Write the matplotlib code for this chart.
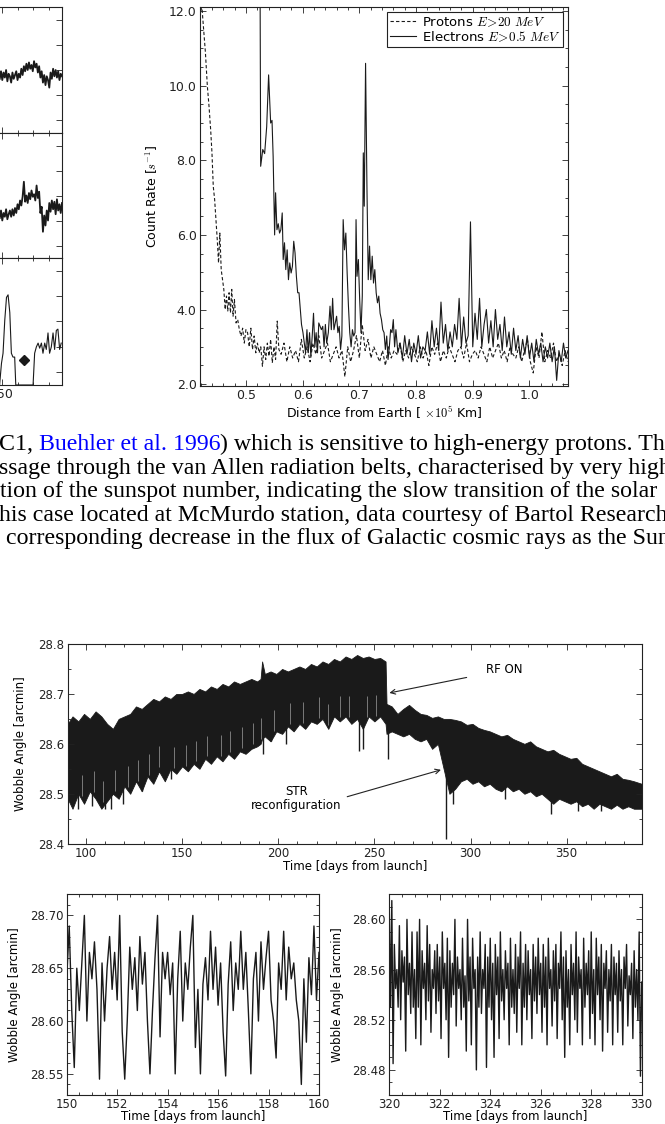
import numpy as np
import matplotlib.pyplot as plt
from matplotlib.ticker import MultipleLocator, AutoMinorLocator

plt.rcParams['font.family'] = ['DejaVu Sans']
plt.rcParams['mathtext.fontset'] = 'cm'

# ---------------- data ----------------
# partial panels on the top left (only their right edge is visible)
strip_top = [4.3, 4.9, 4.2, 4.8, 4.4, 5.0, 4.1, 4.7, 4.5, 4.0, 4.8, 4.3, 4.6, 4.9, 4.2, 4.7, 4.4,
             5.1, 4.6, 5.3, 4.9, 5.5, 5.0, 5.6, 5.1, 5.4, 4.9, 5.7, 5.2, 5.5, 4.8, 5.3, 4.4, 4.9,
             4.0, 4.6, 3.8, 4.5, 4.2, 3.6, 4.8, 4.3, 5.1, 4.5, 5.0, 4.4, 4.9, 4.2, 4.7, 4.5]
strip_mid = [3.2, 3.8, 3.0, 3.6, 3.3, 3.9, 3.1, 3.5, 3.8, 3.3, 3.9, 3.4, 4.0, 3.6, 4.3, 3.9, 4.6,
             4.2, 4.9, 6.1, 4.5, 5.0, 4.4, 5.2, 4.7, 5.4, 4.9, 5.1, 4.6, 5.8, 4.8, 5.3, 3.6, 4.1,
             2.1, 3.4, 2.6, 3.8, 3.0, 4.4, 3.7, 4.6, 3.9, 4.5, 3.5, 4.7, 3.8, 4.3, 3.6, 4.4]
strip_bot_x = [148.5, 149.7, 150.7, 151.8, 152.9, 153.9, 155.0, 156.0, 157.0, 158.1, 158.8, 169.8,
               170.8, 171.9, 173.0, 174.0, 175.1, 176.1, 177.2, 178.2, 179.3, 180.3, 181.4, 182.5,
               183.5, 184.6, 185.6, 186.7, 187.7]
strip_bot_y = [0, 1.7, 2.5, 5.1, 6.9, 7.1, 5.7, 2.5, 2.2, 2.2, 0, 0, 2.5, 3.0, 3.3, 2.9, 3.3, 2.5,
               3.3, 2.8, 4.1, 2.5, 3.0, 4.1, 2.8, 4.3, 4.4, 2.8, 3.3]
strip_marker = (163.8, 2.0)

# count rate vs distance
prot_x = [0.4227, 0.425, 0.4285, 0.432, 0.4349, 0.4378, 0.4401, 0.4424, 0.4448, 0.4471, 0.4494,
          0.4517, 0.454, 0.4564, 0.4587, 0.461, 0.4634, 0.4657, 0.468, 0.4703, 0.4727, 0.475,
          0.4773, 0.4797, 0.4826, 0.4855, 0.4884, 0.4913, 0.4942, 0.4971, 0.5, 0.5029, 0.5058,
          0.5087, 0.5116, 0.5145, 0.5174, 0.5203, 0.5233, 0.5262, 0.5291, 0.532, 0.5349, 0.5378,
          0.5407, 0.5436, 0.5465, 0.5494, 0.5523, 0.5552, 0.5581]
prot_y = [12.04, 11.6, 10.9, 9.98, 9.45, 8.82, 8.2, 7.3, 6.95, 6.41, 5.88, 5.25, 6.05, 5.07, 4.8,
          4.54, 4.0, 4.36, 3.96, 4.45, 3.91, 4.54, 3.82, 4.27, 3.64, 3.73, 3.46, 3.29, 3.5, 3.1,
          3.46, 3.38, 3.0, 3.5, 2.93, 3.29, 2.84, 3.1, 2.84, 3.0, 2.48, 3.0, 2.66, 3.1, 2.75, 3.2,
          2.57, 3.0, 2.66, 3.69, 2.93]
prot_tail = [2.8, 3.1, 2.6, 3.0, 2.7, 2.9, 2.6, 3.2, 2.7, 3.0,
             2.6, 3.1, 2.8, 3.3, 2.7, 2.9, 3.1, 2.6, 2.8, 3.0,
             2.7, 2.9, 2.2, 3.0, 2.6, 2.9, 3.3, 2.7, 3.6, 2.9,
             3.2, 2.7, 3.0, 2.8, 2.6, 2.9, 2.5, 3.0, 2.7, 2.9,
             2.8, 3.1, 2.6, 2.9, 2.7, 3.0, 2.8, 2.6, 3.0, 2.7,
             2.9, 2.5, 3.0, 2.8, 3.1, 2.6, 2.9, 2.7, 3.0, 2.8,
             2.6, 2.9, 3.0, 2.7, 3.1, 2.6, 2.8, 2.9, 2.7, 3.0,
             2.8, 2.6, 3.0, 2.7, 2.9, 3.1, 2.7, 2.9, 2.6, 3.0,
             2.8, 2.7, 3.0, 2.6, 2.9, 3.2, 2.6, 2.3, 3.0, 2.7,
             3.4, 2.6, 2.9, 2.7, 3.1, 2.6, 2.8, 2.5, 2.9, 2.6]

elec_x = [0.525, 0.526, 0.5297, 0.533, 0.5366, 0.540, 0.5436, 0.546, 0.548, 0.5506, 0.5523,
          0.5547, 0.557, 0.5593, 0.5616, 0.564, 0.5657, 0.568, 0.5703, 0.5727, 0.575, 0.5773,
          0.5797, 0.582, 0.5843, 0.5866, 0.589, 0.5913, 0.5936, 0.596, 0.598, 0.6006, 0.603,
          0.6052, 0.6076, 0.6099, 0.6122, 0.6145, 0.6169, 0.6192, 0.6215, 0.6238, 0.6262,
          0.6285, 0.6308, 0.6331, 0.6355, 0.6378, 0.6401, 0.6424, 0.6453, 0.6483, 0.6506,
          0.6529, 0.6552, 0.6576, 0.6599, 0.6622, 0.6645, 0.6669, 0.6692, 0.6715, 0.6738,
          0.6762, 0.6785, 0.6808, 0.6831, 0.6855, 0.6878, 0.6901, 0.6924, 0.6942, 0.6959,
          0.6983, 0.7006, 0.7029, 0.7052, 0.707, 0.7087, 0.711, 0.7134, 0.7157, 0.718, 0.7203,
          0.7227, 0.725, 0.7273, 0.7297, 0.732, 0.7343, 0.7366, 0.739, 0.7413, 0.7436, 0.7459,
          0.7483, 0.7506, 0.7529, 0.7552, 0.7576, 0.7599, 0.7622, 0.7645, 0.768]
elec_y = [12.5, 7.84, 8.29, 8.18, 8.9, 10.29, 9.0, 9.07, 8.1, 6.0, 7.13, 6.14, 6.3, 6.05, 6.14,
          6.59, 5.34, 5.79, 5.07, 5.6, 4.8, 5.25, 4.98, 5.16, 5.83, 5.52, 4.89, 4.45, 4.45, 4.0,
          3.6, 3.38, 3.1,
          2.84, 3.46, 2.84, 3.38, 2.75, 3.29, 3.9, 3.0, 3.38, 2.84, 3.64, 3.55, 3.46, 3.55, 3.0,
          3.6, 3.1, 3.38, 4.09, 3.46, 4.3, 3.46, 3.64, 3.82, 3.38, 3.55, 2.93, 3.29, 6.41, 5.6,
          6.05, 4.98, 4.09, 3.38, 3.0, 3.46, 3.29, 3.38, 6.41, 4.89, 5.34, 4.27, 3.38, 4.36, 8.2,
          6.77, 10.6, 7.3, 4.8, 5.7, 4.8, 5.43, 4.71, 5.07, 4.45, 4.18, 4.36, 3.9, 3.73, 3.46,
          3.38, 2.93, 3.29, 2.66, 3.0, 3.46, 3.38, 3.73, 3.0, 3.46, 2.84]
elec_tail = [3.1, 2.7, 3.3, 2.8, 3.2, 2.6, 3.1, 2.8, 3.3, 2.7, 3.0, 2.9, 3.4, 2.8, 3.7, 3.0, 3.5,
             2.9, 4.2, 3.1, 3.6, 2.9, 3.4, 3.0, 3.6, 3.2, 4.3, 3.0, 3.8, 3.1, 3.3, 6.35, 3.0, 3.9,
             3.2, 4.3, 3.0, 3.6, 4.0, 3.1, 3.7, 3.0, 4.0, 3.2, 3.6, 2.9, 3.8, 3.0, 3.4, 2.8, 3.5,
             2.9, 3.3, 2.7, 3.2, 2.8, 3.3, 2.7, 3.1, 2.6, 3.2, 2.8, 3.1, 2.6, 3.0, 2.7, 3.1, 2.6,
             3.0, 2.1, 2.9, 2.6, 3.1, 2.7, 2.9]

# wobble angle, upper and lower edge of the dense trace
wob_day = [90.5, 93, 96, 99, 102, 105, 108, 111, 114, 117,
           120, 123, 126, 129, 132, 135, 138, 141, 144, 147,
           150, 153, 156, 159, 162, 165, 168, 171, 174, 177,
           180, 183, 186, 189, 190.8, 191.6, 193, 196, 199, 202,
           205, 208, 211, 214, 217, 220, 223, 226, 229, 232,
           235, 238, 241, 244, 247, 250, 253, 255.8, 256.3, 259,
           262, 265, 268, 271, 274, 277, 280, 283, 286, 289,
           292, 295, 298, 301, 304, 307, 310, 313, 316, 319,
           322, 325, 328, 331, 334, 337, 340, 343, 346, 349,
           352, 355, 358, 361, 364, 367, 370, 373, 376, 379,
           382, 385, 389]
wob_hi = [28.64, 28.655, 28.645, 28.66, 28.65, 28.665, 28.655, 28.64, 28.63, 28.65,
          28.655, 28.66, 28.675, 28.67, 28.68, 28.69, 28.685, 28.695, 28.69, 28.70,
          28.70, 28.705, 28.70, 28.71, 28.705, 28.715, 28.71, 28.72, 28.715, 28.725,
          28.72, 28.725, 28.73, 28.725, 28.73, 28.765, 28.74, 28.745, 28.74, 28.75,
          28.745, 28.75, 28.755, 28.75, 28.76, 28.755, 28.765, 28.76, 28.77, 28.765,
          28.775, 28.77, 28.778, 28.772, 28.775, 28.77, 28.772, 28.765, 28.68, 28.675,
          28.66, 28.67, 28.678, 28.668, 28.66, 28.658, 28.652, 28.655, 28.65, 28.65,
          28.648, 28.645, 28.638, 28.64, 28.632, 28.628, 28.625, 28.62, 28.615, 28.618,
          28.61, 28.605, 28.60, 28.605, 28.595, 28.59, 28.585, 28.588, 28.58, 28.575,
          28.57, 28.572, 28.56, 28.555, 28.55, 28.545, 28.54, 28.535, 28.54, 28.53,
          28.528, 28.525, 28.52]
wob_lo = [28.49, 28.47, 28.50, 28.48, 28.505, 28.49, 28.47, 28.485, 28.50, 28.49,
          28.515, 28.50, 28.525, 28.505, 28.535, 28.52, 28.545, 28.525, 28.55, 28.54,
          28.555, 28.545, 28.56, 28.55, 28.57, 28.56, 28.575, 28.565, 28.58, 28.57,
          28.585, 28.58, 28.59, 28.595, 28.60, 28.61, 28.615, 28.605, 28.625, 28.62,
          28.635, 28.625, 28.64, 28.63, 28.645, 28.64, 28.65, 28.63, 28.655, 28.645,
          28.655, 28.64, 28.65, 28.63, 28.655, 28.645, 28.655, 28.64, 28.62, 28.625,
          28.62, 28.615, 28.62, 28.61, 28.605, 28.61, 28.59, 28.60, 28.55, 28.50,
          28.51, 28.525, 28.53, 28.52, 28.525, 28.515, 28.52, 28.51, 28.505, 28.515,
          28.505, 28.51, 28.50, 28.505, 28.495, 28.50, 28.49, 28.48, 28.49, 28.485,
          28.48, 28.485, 28.475, 28.48, 28.47, 28.48, 28.475, 28.47, 28.478, 28.47,
          28.475, 28.47, 28.47]
spike_day = [96, 103, 110, 113, 119, 129, 144, 192, 196, 204, 242, 244, 257, 287.3, 291, 318,
             342, 356, 368]
spike_lo = [28.47, 28.475, 28.47, 28.47, 28.48, 28.505, 28.53, 28.58, 28.605, 28.60, 28.585,
            28.59, 28.57, 28.41, 28.48, 28.49, 28.46, 28.465, 28.465]
# sparse (grey) stretches inside the band
gap_day = [98, 104, 109, 115, 122, 127, 133, 138, 146, 152, 157, 163, 170, 175, 181, 187, 191,
           198, 206, 213, 221, 226, 232, 237, 246, 251]

# zoomed wobble traces
zoom1 = [28.64, 28.69, 28.61, 28.556, 28.65, 28.61, 28.655, 28.70, 28.60, 28.665,
         28.64, 28.675, 28.63, 28.545, 28.655, 28.60, 28.65, 28.68, 28.63, 28.665,
         28.62, 28.70, 28.59, 28.545, 28.60, 28.67, 28.63, 28.66, 28.61, 28.68,
         28.635, 28.665, 28.60, 28.55, 28.61, 28.66, 28.70, 28.585, 28.665, 28.64,
         28.665, 28.625, 28.655, 28.55, 28.64, 28.685, 28.60, 28.655, 28.63, 28.67,
         28.70, 28.575, 28.63, 28.55, 28.635, 28.66, 28.62, 28.685, 28.63, 28.67,
         28.615, 28.655, 28.59, 28.548, 28.635, 28.675, 28.61, 28.655, 28.63, 28.685,
         28.63, 28.665, 28.61, 28.55, 28.64, 28.665, 28.60, 28.675, 28.63, 28.66,
         28.685, 28.62, 28.60, 28.565, 28.655, 28.63, 28.685, 28.62, 28.67, 28.64,
         28.655, 28.62, 28.60, 28.54, 28.64, 28.58, 28.66, 28.625, 28.69, 28.62,
         28.665]
zoom2 = [28.61, 28.53, 28.615, 28.485, 28.58, 28.545, 28.56, 28.53, 28.595, 28.52, 28.575, 28.55, 28.57, 28.495, 28.60, 28.54, 28.565, 28.525, 28.59, 28.53,
         28.56, 28.505, 28.59, 28.53, 28.60, 28.50, 28.575, 28.545, 28.565, 28.52, 28.595, 28.535, 28.58, 28.51, 28.56, 28.545, 28.575, 28.525, 28.58, 28.535,
         28.57, 28.505, 28.59, 28.545, 28.565, 28.52, 28.585, 28.49, 28.575, 28.53, 28.565, 28.54, 28.60, 28.515, 28.57, 28.545, 28.56, 28.52, 28.585, 28.53,
         28.555, 28.495, 28.60, 28.535, 28.57, 28.50, 28.585, 28.545, 28.56, 28.48, 28.57, 28.53, 28.59, 28.525, 28.56, 28.545, 28.58, 28.482, 28.57, 28.53,
         28.585, 28.52, 28.565, 28.49, 28.58, 28.54, 28.57, 28.505, 28.59, 28.535, 28.56, 28.52, 28.575, 28.545, 28.565, 28.50, 28.585, 28.53, 28.56, 28.525,
         28.58, 28.51, 28.57, 28.545, 28.59, 28.50, 28.565, 28.53, 28.58, 28.52, 28.575, 28.54, 28.56, 28.505, 28.58, 28.535, 28.57, 28.525, 28.585, 28.54,
         28.565, 28.51, 28.58, 28.53, 28.57, 28.50, 28.585, 28.545, 28.56, 28.515, 28.575, 28.535, 28.58, 28.505, 28.565, 28.545, 28.59, 28.52, 28.57, 28.49,
         28.575, 28.53, 28.56, 28.50, 28.58, 28.54, 28.565, 28.52, 28.59, 28.51, 28.57, 28.545, 28.56, 28.50, 28.585, 28.53, 28.565, 28.54, 28.575, 28.505,
         28.59, 28.525, 28.56, 28.50, 28.585, 28.54, 28.57, 28.52, 28.58, 28.495, 28.565, 28.545, 28.575, 28.51, 28.56, 28.535, 28.58, 28.50, 28.57, 28.54,
         28.565, 28.51, 28.575, 28.535, 28.56, 28.50, 28.57, 28.545, 28.58, 28.515, 28.555, 28.54, 28.565, 28.505, 28.575, 28.53, 28.56, 28.52, 28.59, 28.475,
         28.55]

paragraph = [
    [("C1, ", "black"), ("Buehler et al. 1996", "blue"),
     (") which is sensitive to high-energy protons. The", "black")],
    [("ssage through the van Allen radiation belts, characterised by very high", "black")],
    [("tion of the sunspot number, indicating the slow transition of the solar", "black")],
    [("his case located at McMurdo station, data courtesy of Bartol Research", "black")],
    [(" corresponding decrease in the flux of Galactic cosmic rays as the Sun", "black")],
]

# ---------------- figure ----------------
W, H = 665, 1124
fig = plt.figure(figsize=(W / 100, H / 100), dpi=100)


def px_axes(x0, y0, x1, y1):
    return fig.add_axes([x0 / W, 1 - y1 / H, (x1 - x0) / W, (y1 - y0) / H])


def style(ax, size=8.5):
    ax.tick_params(which='both', direction='in', top=True, right=True,
                   labelsize=size, width=0.6, colors='#222222', pad=2.5)
    ax.tick_params(which='major', length=4)
    ax.tick_params(which='minor', length=2)
    for s in ax.spines.values():
        s.set_linewidth(0.8)
        s.set_color('#222222')


# page text between the figures
bg = fig.add_axes([0, 0, 1, 1])
bg.set_xlim(0, W)
bg.set_ylim(H, 0)
bg.axis('off')
line_y = [455, 479, 502, 526, 549]
line_x = [-1, -1, 0, -1, 0]
for parts, x, y in zip(paragraph, line_x, line_y):
    prev = None
    for txt, col in parts:
        kw = dict(fontsize=17.2, family='Liberation Serif', color=col, va='bottom', ha='left')
        if prev is None:
            prev = bg.text(x, y, txt, **kw)
        else:
            prev = bg.annotate(txt, xy=(1, 0), xycoords=prev, **kw)

# partial panels
strip_axes = [px_axes(-138, 7, 62, 133), px_axes(-138, 133, 62, 258), px_axes(-138, 258, 62, 385)]
for i, ax in enumerate(strip_axes):
    style(ax, 9)
    ax.set_xlim(61, 188.2)
    ax.set_ylim(0, 10)
    ax.xaxis.set_major_locator(MultipleLocator(50))
    ax.xaxis.set_minor_locator(MultipleLocator(10))
    ax.set_yticks([1, 3, 5, 7, 9])
    ax.set_yticklabels([])
    if i < 2:
        ax.set_xticklabels([])
strip_axes[0].plot(np.linspace(148.6, 188.2, len(strip_top)), strip_top, color='#1a1a1a', lw=1.3)
strip_axes[1].plot(np.linspace(148.6, 188.2, len(strip_mid)), strip_mid, color='#1a1a1a', lw=1.3)
strip_axes[2].plot(strip_bot_x, strip_bot_y, color='#1a1a1a', lw=0.8)
strip_axes[2].plot(*strip_marker, marker='D', color='#1a1a1a', ms=5)

# count rate panel
ax = px_axes(200, 7, 568, 386)
style(ax, 9)
ax.plot(prot_x + list(np.linspace(0.562, 1.068, len(prot_tail))), prot_y + prot_tail,
        color='#1a1a1a', lw=0.8, ls=(0, (3, 2)), label=r'Protons $E\!>\!20\ MeV$')
ax.plot(elec_x + list(np.linspace(0.772, 1.068, len(elec_tail))), elec_y + elec_tail,
        color='#1a1a1a', lw=0.8, label=r'Electrons $E\!>\!0.5\ MeV$')
ax.set_xlim(0.419, 1.068)
ax.set_ylim(1.95, 12.11)
ax.set_xticks([0.5, 0.6, 0.7, 0.8, 0.9, 1.0])
ax.set_yticks([2, 4, 6, 8, 10, 12])
ax.set_yticklabels(['2.0', '4.0', '6.0', '8.0', '10.0', '12.0'])
ax.xaxis.set_minor_locator(AutoMinorLocator(5))
ax.yaxis.set_minor_locator(AutoMinorLocator(4))
ax.set_xlabel(r'Distance from Earth [ $\times10^5$ Km]', fontsize=9, labelpad=1)
ax.set_ylabel(r'Count Rate [$s^{-1}$]', fontsize=9, labelpad=6)
leg = ax.legend(loc='upper right', fontsize=9.5, fancybox=False, framealpha=1, edgecolor='#222222',
                borderpad=0.2, handlelength=2.0, handletextpad=0.4, borderaxespad=0.4,
                labelspacing=0.05)
leg.get_frame().set_linewidth(0.8)

# wobble angle overview
ax = px_axes(67.7, 644, 641.7, 843.7)
style(ax)
ax.fill_between(wob_day, wob_lo, wob_hi, color='#1a1a1a', lw=0.6)
ax.vlines(spike_day, spike_lo, np.interp(spike_day, wob_day, wob_lo) + 0.01, color='#1a1a1a', lw=1)
gap_base = np.interp(gap_day, wob_day, wob_lo)
ax.vlines(gap_day, gap_base + 0.008, gap_base + 0.05, color='#8a8a8a', lw=0.6)
ax.set_xlim(90.5, 389)
ax.set_ylim(28.4, 28.8)
ax.xaxis.set_major_locator(MultipleLocator(50))
ax.xaxis.set_minor_locator(MultipleLocator(10))
ax.yaxis.set_major_locator(MultipleLocator(0.1))
ax.yaxis.set_minor_locator(MultipleLocator(0.05))
ax.set_xlabel('Time [days from launch]', fontsize=8.5, labelpad=0)
ax.set_ylabel('Wobble Angle [arcmin]', fontsize=8.5, labelpad=8)
ax.annotate('RF ON', xy=(257.8, 28.702), xytext=(317.4, 28.748), fontsize=8.5,
            ha='center', va='center', arrowprops=dict(arrowstyle='->', lw=0.8, color='#222222',
                                                      shrinkA=12, shrinkB=0))
ax.annotate('STR\nreconfiguration', xy=(284.6, 28.548), xytext=(209.5, 28.491), fontsize=8.5,
            ha='center', va='center', linespacing=1.1,
            arrowprops=dict(arrowstyle='->', lw=0.8, color='#222222', shrinkA=2, shrinkB=0,
                            relpos=(1.0, 0.5)))

# zoomed panels
ax = px_axes(66.7, 894.3, 319, 1095)
style(ax)
ax.plot(np.linspace(150, 160, len(zoom1)), zoom1, color='#1a1a1a', lw=1.0)
ax.set_xlim(150, 160)
ax.set_ylim(28.53, 28.72)
ax.xaxis.set_major_locator(MultipleLocator(2))
ax.xaxis.set_minor_locator(MultipleLocator(0.5))
ax.yaxis.set_major_locator(MultipleLocator(0.05))
ax.yaxis.set_minor_locator(MultipleLocator(0.01))
ax.yaxis.set_major_formatter('{x:.2f}')
ax.set_xlabel('Time [days from launch]', fontsize=8.5, labelpad=-1)
ax.set_ylabel('Wobble Angle [arcmin]', fontsize=8.5, labelpad=6)

ax = px_axes(389.3, 894.3, 641.7, 1095)
style(ax)
ax.plot(np.linspace(320, 330, len(zoom2)), zoom2, color='#1a1a1a', lw=1.0)
ax.set_xlim(320, 330)
ax.set_ylim(28.46, 28.62)
ax.xaxis.set_major_locator(MultipleLocator(2))
ax.xaxis.set_minor_locator(MultipleLocator(0.5))
ax.yaxis.set_major_locator(MultipleLocator(0.04))
ax.yaxis.set_minor_locator(MultipleLocator(0.01))
ax.yaxis.set_major_formatter('{x:.2f}')
ax.set_xlabel('Time [days from launch]', fontsize=8.5, labelpad=-1)
ax.set_ylabel('Wobble Angle [arcmin]', fontsize=8.5, labelpad=6)

fig.savefig('out.png', dpi=100)
